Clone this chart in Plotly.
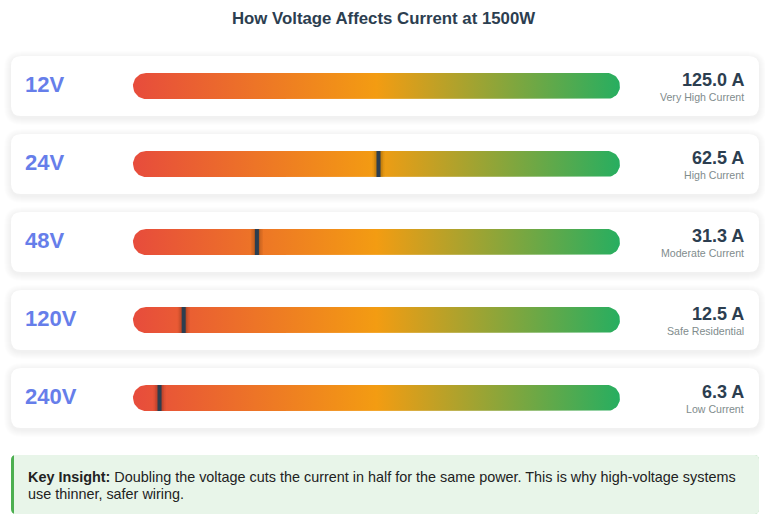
import numpy as np
import plotly.graph_objects as go

# data (P = 1500 W)
voltages = ['12V', '24V', '48V', '120V', '240V']
currents = [125.0, 62.5, 31.3, 12.5, 6.3]
current_labels = ['125.0 A', '62.5 A', '31.3 A', '12.5 A', '6.3 A']
levels = ['Very High Current', 'High Current', 'Moderate Current', 'Safe Residential', 'Low Current']
title = 'How Voltage Affects Current at 1500W'
insight_1 = '<b>Key Insight:</b> Doubling the voltage cuts the current in half for the same power. This is why high-voltage systems'
insight_2 = 'use thinner, safer wiring.'

W, H = 765, 521
FONT = 'Liberation Sans, Arial, sans-serif'
CARD_X0, CARD_X1 = 11, 759
CARD_TOP, CARD_H, CARD_STEP = 56, 60, 78
BAR_X0, BAR_X1, BAR_H = 133, 620, 26

max_a = max(currents)
u = max_a / (BAR_X1 - BAR_X0)   # amps per pixel on the bar axis


def rrect(x0, y0, x1, y1, r):
    return (f'M{x0+r},{y0} L{x1-r},{y0} Q{x1},{y0} {x1},{y0+r} '
            f'L{x1},{y1-r} Q{x1},{y1} {x1-r},{y1} L{x0+r},{y1} '
            f'Q{x0},{y1} {x0},{y1-r} L{x0},{y0+r} Q{x0},{y0} {x0+r},{y0} Z')


shapes = []
annotations = []
fig = go.Figure()

annotations.append(dict(x=W / 2 + 1, y=18, text=f'<b>{title}</b>', showarrow=False,
                        font=dict(size=16.8, color='#2c3e50')))

for i, v in enumerate(voltages):
    top = CARD_TOP + i * CARD_STEP
    yc = top + CARD_H / 2
    # soft shadow
    for s in range(1, 8):
        shapes.append(dict(type='path', xref='x', yref='y', layer='below',
                           path=rrect(CARD_X0 - s, top + 2 - s, CARD_X1 + s, top + CARD_H + 2 + s, 10 + s),
                           fillcolor='rgba(0,0,0,0.009)', line=dict(width=0)))
    shapes.append(dict(type='path', xref='x', yref='y', layer='below',
                       path=rrect(CARD_X0, top, CARD_X1, top + CARD_H, 10),
                       fillcolor='white', line=dict(width=0)))

    # gradient track, 0 .. max current on the bar axis
    r_y = BAR_H / 2
    r_x = r_y * u
    t = np.linspace(np.pi / 2, 3 * np.pi / 2, 25)
    xs = np.concatenate([r_x + r_x * np.cos(t), max_a - r_x - r_x * np.cos(t)])
    ys = np.concatenate([yc - r_y * np.sin(t), yc + r_y * np.sin(t)])
    fig.add_trace(go.Scatter(x=np.append(xs, xs[0]), y=np.append(ys, ys[0]), xaxis='x2', yaxis='y',
                             mode='lines', fill='toself', line=dict(width=0),
                             fillgradient=dict(type='horizontal',
                                               colorscale=[[0, '#e74c3c'], [0.5, '#f39c12'], [1, '#27ae60']]),
                             hoverinfo='skip', showlegend=False))

    # current marker (hidden when it sits at the end of the bar)
    a = currents[i]
    if a < max_a:
        mx = a + 2 * u
        for w, alpha in [(12, 0.05), (9, 0.07), (6, 0.1)]:
            fig.add_trace(go.Scatter(x=[mx, mx], y=[yc - r_y, yc + r_y], xaxis='x2', yaxis='y', mode='lines',
                                     line=dict(color=f'rgba(0,0,0,{alpha})', width=w),
                                     hoverinfo='skip', showlegend=False))
        fig.add_trace(go.Scatter(x=[mx, mx], y=[yc - r_y, yc + r_y], xaxis='x2', yaxis='y', mode='lines',
                                 line=dict(color='#2c3e50', width=4),
                                 hoverinfo='skip', showlegend=False))

    annotations.append(dict(x=23, y=yc - 1.5, text=f'<b>{v}</b>', xanchor='left', showarrow=False,
                            font=dict(size=22, color='#667eea')))
    annotations.append(dict(x=746, y=yc - 6.5, text=f'<b>{current_labels[i]}</b>', xanchor='right',
                            showarrow=False, font=dict(size=18, color='#2c3e50')))
    annotations.append(dict(x=746, y=yc + 11, text=levels[i], xanchor='right',
                            showarrow=False, font=dict(size=10.6, color='#7f8c8d')))

# key insight box
shapes.append(dict(type='path', xref='x', yref='y', layer='below',
                   path=rrect(CARD_X0, 455, CARD_X1, 514, 5),
                   fillcolor='#4caf50', line=dict(width=0)))
shapes.append(dict(type='path', xref='x', yref='y', layer='below',
                   path=rrect(CARD_X0 + 3, 455, CARD_X1, 514, 4),
                   fillcolor='#e8f5e9', line=dict(width=0)))
shapes.append(dict(type='rect', xref='x', yref='y', layer='below',
                   x0=CARD_X0 + 3, x1=CARD_X0 + 8, y0=455, y1=514,
                   fillcolor='#e8f5e9', line=dict(width=0)))
annotations.append(dict(x=26, y=477, text=insight_1, xanchor='left', showarrow=False,
                        font=dict(size=14.4, color='#222222')))
annotations.append(dict(x=26, y=493.5, text=insight_2, xanchor='left', showarrow=False,
                        font=dict(size=14.4, color='#222222')))

fig.update_layout(
    width=W, height=H,
    margin=dict(l=0, r=0, t=0, b=0),
    paper_bgcolor='white', plot_bgcolor='white',
    font=dict(family=FONT),
    xaxis=dict(range=[0, W], visible=False, fixedrange=True),
    xaxis2=dict(range=[-BAR_X0 * u, (W - BAR_X0) * u], overlaying='x', anchor='y',
                visible=False, fixedrange=True),
    yaxis=dict(range=[H, 0], visible=False, fixedrange=True),
    shapes=shapes,
    annotations=annotations,
    showlegend=False,
)

# browser default body margin would push the figure 8px right/down
fig.write_html('out.html', config={'displayModeBar': False},
               post_script="document.body.style.margin='0';")
